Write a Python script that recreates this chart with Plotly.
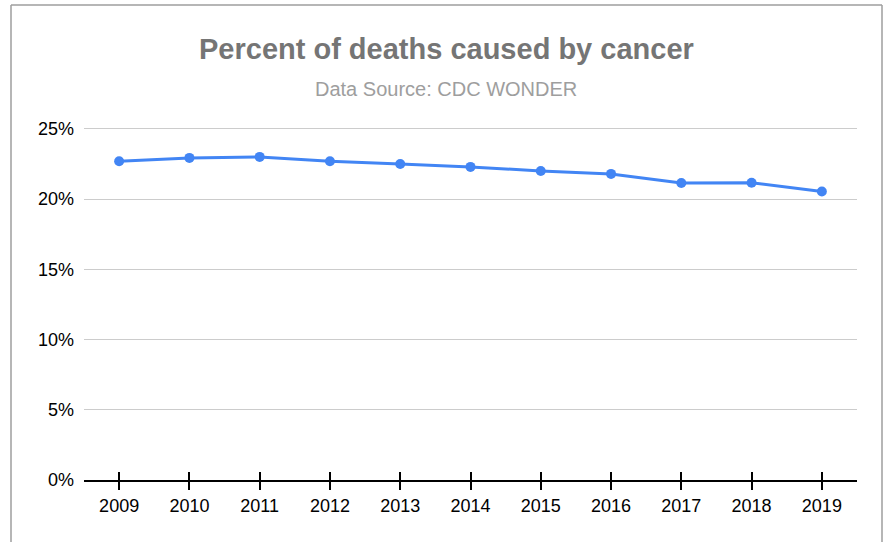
import plotly.graph_objects as go

# Percent of deaths caused by cancer, US
years = ["2009", "2010", "2011", "2012", "2013", "2014",
         "2015", "2016", "2017", "2018", "2019"]
pct_cancer = [0.2269, 0.2293, 0.2300, 0.2269, 0.2250, 0.2229,
              0.2200, 0.2179, 0.2114, 0.2116, 0.2054]
y_ticks = [0, 0.05, 0.10, 0.15, 0.20, 0.25]

BLUE = "#4285F4"
GRID = "#cccccc"
BORDER = "#9e9e9e"
FONT = "Arial, Liberation Sans, sans-serif"

W, H = 884, 542
L, R, T, B = 84, 27, 126, 62

fig = go.Figure()
fig.add_trace(go.Scatter(
    x=years, y=pct_cancer,
    mode="lines+markers",
    line=dict(color=BLUE, width=3),
    marker=dict(color=BLUE, size=10),
    showlegend=False,
    hovertemplate="%{x}: %{y:.1%}<extra></extra>",
))
# invisible twin so the x axis can carry ticks on both sides of the line
fig.add_trace(go.Scatter(
    x=years, y=pct_cancer, xaxis="x2", mode="none",
    showlegend=False, hoverinfo="skip",
))

# chart frame (no bottom edge in the reference)
pw, ph = W - L - R, H - T - B
def px(xp): return (xp - L) / pw
def py(yp): return (H - B - yp) / ph
frame = dict(type="line", xref="paper", yref="paper",
             line=dict(color=BORDER, width=1.5))
shapes = [
    dict(frame, x0=px(11), x1=px(11), y0=py(5), y1=py(H + 5)),
    dict(frame, x0=px(11), x1=px(882), y0=py(5), y1=py(5)),
    dict(frame, x0=px(882), x1=px(882), y0=py(5), y1=py(H + 5)),
]

fig.update_layout(
    width=W, height=H,
    margin=dict(l=L, r=R, t=T, b=B),
    paper_bgcolor="white", plot_bgcolor="white",
    font=dict(family=FONT, color="#000000", size=18),
    shapes=shapes,
    annotations=[
        dict(text="<b>Percent of deaths caused by cancer</b>",
             xref="paper", yref="paper", x=px(446), y=py(49),
             showarrow=False, xanchor="center", yanchor="middle",
             font=dict(family=FONT, size=29, color="#757575")),
        dict(text="Data Source: CDC WONDER",
             xref="paper", yref="paper", x=px(446), y=py(89),
             showarrow=False, xanchor="center", yanchor="middle",
             font=dict(family=FONT, size=20, color="#9e9e9e")),
    ],
    xaxis=dict(
        type="category", range=[-0.5, len(years) - 0.5],
        showgrid=False, zeroline=False,
        showline=True, linecolor="#000000", linewidth=2,
        ticks="outside", ticklen=8, tickwidth=1.5, tickcolor="#000000",
        tickfont=dict(size=18, color="#000000"),
        fixedrange=True,
    ),
    xaxis2=dict(
        type="category", range=[-0.5, len(years) - 0.5],
        overlaying="x", side="bottom", anchor="y",
        showgrid=False, zeroline=False, showline=False,
        ticks="inside", ticklen=8, tickwidth=1.5, tickcolor="#000000",
        showticklabels=False,
    ),
    yaxis=dict(
        # a little headroom so the 25% gridline is not dropped at the edge
        range=[0, 0.252], tickvals=y_ticks, tickformat=".0%",
        showgrid=True, gridcolor=GRID, gridwidth=1.2,
        zeroline=False, showline=False, ticks="",
        ticklabelstandoff=9,
        tickfont=dict(size=18, color="#000000"),
    ),
)

# the page's default body margin would push the figure off the window edge
fig.write_html("out.html", config={"displayModeBar": False},
               post_script="document.body.style.margin='0';")
